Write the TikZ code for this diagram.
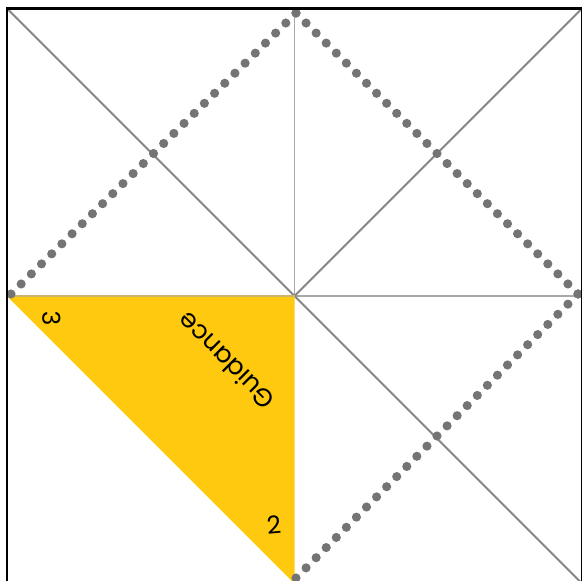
\documentclass[tikz,border=0pt]{standalone}
\usepackage{fontspec}
\setmainfont{Poppins}
\usetikzlibrary{calc}
\definecolor{cyellow}{HTML}{FEC90F}
\definecolor{cdot}{HTML}{747474}
\definecolor{cline}{HTML}{858585}
\definecolor{caxis}{HTML}{A8A8A8}
\tikzset{
  every picture/.style={x=0.02cm, y=-0.02cm},
  frame/.style={draw=black, line width=1.6pt},
  diag/.style={draw=cline, line width=1.1pt},
  axis/.style={draw=caxis, line width=0.6pt},
  flap/.style={fill=cyellow},
  dotc/.style={fill=cdot},
  numlabel/.style={font=\fontsize{14}{16}\selectfont, inner sep=0pt},
  wordlabel/.style={font=\fontsize{14.5}{16}\selectfont, inner sep=0pt},
}
\begin{document}
\begin{tikzpicture}
  \useasboundingbox (0,0) rectangle (582,581);
  \fill[white] (0,0) rectangle (582,581);
  % corners, centre and edge midpoints of the sheet
  \coordinate (tl) at (7,8.5);
  \coordinate (tr) at (582,8.5);
  \coordinate (bl) at (7,583.5);
  \coordinate (br) at (582,583.5);
  \coordinate (c) at (294.5,296);
  \coordinate (lm) at (7,296);
  \coordinate (tm) at (294.5,8.5);
  \coordinate (rm) at (582,296);
  \coordinate (bm) at (294.5,583.5);
  % fold lines
  \draw[axis] (tm) -- (c) -- (rm);
  \draw[diag] (tl) -- (br);
  \draw[diag] (tr) -- (c);
  % coloured flap
  \fill[flap] (lm) -- (c) -- (bm) -- cycle;
  \draw[caxis!60!cyellow, line width=0.6pt] (lm) -- (c);
  \node[wordlabel, rotate=135] (word) at (226,361) {Guidance};
  \node[numlabel, rotate=-88] (three) at (52,318) {3};
  \node[numlabel, rotate=5] (two) at (274,525) {2};
  % dotted diamond, three sides
  \coordinate (dl) at (11,294);
  \coordinate (dt) at (296,13);
  \coordinate (dr) at (578,294);
  \coordinate (db) at (296,578);
  \foreach \a/\b in {dl/dt, dt/dr, dr/db}
    \foreach \i in {0,...,28}
      \fill[dotc] ($(\a)!\i/28!(\b)$) circle (2.6pt);
  \draw[frame] (tl) rectangle (br);
\end{tikzpicture}
\end{document}
